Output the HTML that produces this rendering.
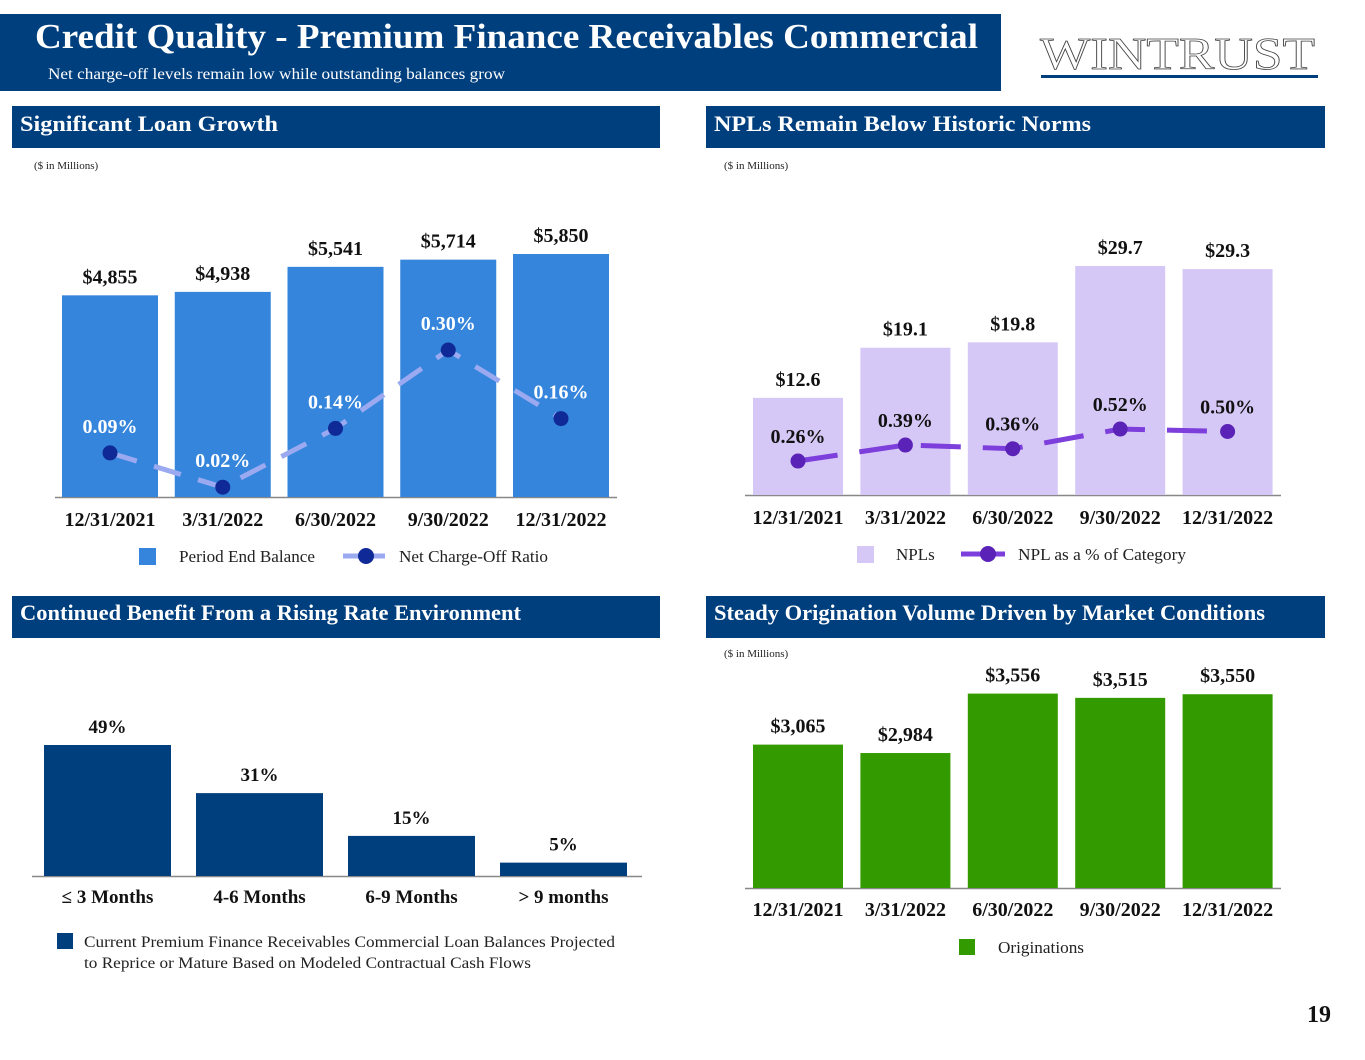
<!DOCTYPE html>
<html><head><meta charset="utf-8">
<style>
html,body{margin:0;padding:0;background:#fff;}
body{width:1365px;height:1055px;overflow:hidden;font-family:"Liberation Serif",serif;}
svg text{font-family:"Liberation Serif",serif;}
</style></head>
<body>
<svg id="s" width="1365" height="1055" viewBox="0 0 1365 1055" xmlns="http://www.w3.org/2000/svg">
  <rect x="0" y="14" width="1001" height="77" fill="#003f7e"/>
  <text x="35" y="48" font-size="35" font-weight="bold" fill="#fff" textLength="943" lengthAdjust="spacingAndGlyphs">Credit Quality - Premium Finance Receivables Commercial</text>
  <text x="48" y="79" font-size="16" fill="#fff" textLength="457" lengthAdjust="spacingAndGlyphs">Net charge-off levels remain low while outstanding balances grow</text>
  <g>
    <text x="1040" y="69" font-size="46" fill="#fff" stroke="#444" stroke-width="0.8" textLength="275" lengthAdjust="spacingAndGlyphs">WINTRUST</text>
    <rect x="1041" y="75" width="277" height="3" fill="#003f7e"/>
  </g>
  <rect x="12" y="106" width="648" height="42" fill="#003f7e"/>
  <text x="20" y="131" font-size="22" font-weight="bold" fill="#fff" textLength="258" lengthAdjust="spacingAndGlyphs">Significant Loan Growth</text>
  <rect x="706" y="106" width="619" height="42" fill="#003f7e"/>
  <text x="714" y="131" font-size="22" font-weight="bold" fill="#fff" textLength="377" lengthAdjust="spacingAndGlyphs">NPLs Remain Below Historic Norms</text>
  <rect x="12" y="596" width="648" height="42" fill="#003f7e"/>
  <text x="20" y="620" font-size="22" font-weight="bold" fill="#fff" textLength="501" lengthAdjust="spacingAndGlyphs">Continued Benefit From a Rising Rate Environment</text>
  <rect x="706" y="596" width="619" height="42" fill="#003f7e"/>
  <text x="714" y="620" font-size="22" font-weight="bold" fill="#fff" textLength="551" lengthAdjust="spacingAndGlyphs">Steady Origination Volume Driven by Market Conditions</text>
  <text x="34" y="169" font-size="11" fill="#222">($ in Millions)</text>
  <text x="724" y="169" font-size="11" fill="#222">($ in Millions)</text>
  <text x="724" y="657" font-size="11" fill="#222">($ in Millions)</text>
  <text x="1331" y="1022" font-size="24" font-weight="bold" fill="#111" text-anchor="end">19</text>
  <g id="g1"></g><g id="g2"></g><g id="g3"></g><g id="g4"></g>
  <g>
    <rect x="139" y="548" width="17" height="17" fill="#3585dc"/>
    <text x="179" y="562" font-size="17" fill="#222" textLength="136" lengthAdjust="spacingAndGlyphs">Period End Balance</text>
    <line x1="343" y1="556" x2="385" y2="556" stroke="#9aa9f0" stroke-width="5"/>
    <circle cx="366" cy="556" r="8" fill="#0f2a96"/>
    <text x="399" y="562" font-size="17" fill="#222" textLength="149" lengthAdjust="spacingAndGlyphs">Net Charge-Off Ratio</text>
  </g>
  <g>
    <rect x="857" y="546" width="17" height="17" fill="#d6c8f6"/>
    <text x="896" y="560" font-size="17" fill="#222">NPLs</text>
    <line x1="961" y1="554" x2="1005" y2="554" stroke="#7d3fdc" stroke-width="5"/>
    <circle cx="988" cy="554" r="8" fill="#5b22b8"/>
    <text x="1018" y="560" font-size="17" fill="#222" textLength="168" lengthAdjust="spacingAndGlyphs">NPL as a % of Category</text>
  </g>
  <g>
    <rect x="57" y="933" width="16" height="16" fill="#003f7e"/>
    <text x="84" y="947" font-size="16" fill="#222" textLength="531" lengthAdjust="spacingAndGlyphs">Current Premium Finance Receivables Commercial Loan Balances Projected</text>
    <text x="84" y="968" font-size="16" fill="#222" textLength="447" lengthAdjust="spacingAndGlyphs">to Reprice or Mature Based on Modeled Contractual Cash Flows</text>
  </g>
  <g>
    <rect x="959" y="939" width="16" height="16" fill="#339a00"/>
    <text x="998" y="953" font-size="17" fill="#222" textLength="86" lengthAdjust="spacingAndGlyphs">Originations</text>
  </g>
</svg>
<script>
const quarters = ["12/31/2021","3/31/2022","6/30/2022","9/30/2022","12/31/2022"];
const loanBalances = [4855,4938,5541,5714,5850];
const loanLabels = ["$4,855","$4,938","$5,541","$5,714","$5,850"];
const ncoRatios = [0.09,0.02,0.14,0.30,0.16];
const ncoLabels = ["0.09%","0.02%","0.14%","0.30%","0.16%"];
const nplValues = [12.6,19.1,19.8,29.7,29.3];
const nplLabels = ["$12.6","$19.1","$19.8","$29.7","$29.3"];
const nplPct = [0.26,0.39,0.36,0.52,0.50];
const nplPctLabels = ["0.26%","0.39%","0.36%","0.52%","0.50%"];
const rateCats = ["≤ 3 Months","4-6 Months","6-9 Months","> 9 months"];
const rateValues = [49,31,15,5];
const rateLabels = ["49%","31%","15%","5%"];
const origValues = [3065,2984,3556,3515,3550];
const origLabels = ["$3,065","$2,984","$3,556","$3,515","$3,550"];

const NS="http://www.w3.org/2000/svg";
function mk(parent,tag,attrs,txt){const e=document.createElementNS(NS,tag);for(const k in attrs)e.setAttribute(k,attrs[k]);if(txt!==undefined)e.textContent=txt;parent.appendChild(e);return e;}

function barChart(gid,cfg){
  const g=document.getElementById(gid);
  
  
  const n=cfg.cats.length;
  const xC=i=>cfg.x0+cfg.step*i;
  const yV=v=>cfg.base-(v-cfg.min)*cfg.scale;
  mk(g,'line',{x1:cfg.ax0,x2:cfg.ax1,y1:cfg.base+0.5,y2:cfg.base+0.5,stroke:'#888','stroke-width':1.5});
  for(let i=0;i<n;i++){
    const y=yV(cfg.vals[i]);
    const r=mk(g,'rect',{x:xC(i)-cfg.w/2,y:y,width:cfg.w,height:cfg.base-y,fill:cfg.color});
    
    
    const t=mk(g,'text',{x:xC(i),y:y-12,'font-size':cfg.valFs,'font-weight':'bold','text-anchor':'middle',fill:'#111'},cfg.labels[i]);
    
    
    const c=mk(g,'text',{x:xC(i),y:cfg.base+cfg.catDy,'font-size':cfg.catFs,'font-weight':'bold','text-anchor':'middle',fill:'#111'},cfg.cats[i]);
    
    
  }
  if(cfg.line){
    const L=cfg.line;
    const yL=v=>L.base-v*L.scale;
    let d='';
    for(let i=0;i<n;i++)d+=(i?'L':'M')+xC(i)+' '+yL(L.vals[i]);
    const p=mk(g,'path',{d:d,fill:'none',stroke:L.color,'stroke-width':5,'stroke-dasharray':L.dash});
    
    
    for(let i=0;i<n;i++){
      const c=mk(g,'circle',{cx:xC(i),cy:yL(L.vals[i]),r:7.5,fill:L.dot});
      
      
      const t=mk(g,'text',{x:xC(i),y:yL(L.vals[i])-L.lblDy,'font-size':20,'font-weight':'bold','text-anchor':'middle',fill:L.lblColor},L.labels[i]);
      
      
    }
  }
}
barChart('g1',{name:'loan-growth-chart',cats:quarters,vals:loanBalances,labels:loanLabels,x0:110,step:112.75,w:96,base:497,min:0,scale:243/5850,color:'#3585dc',ax0:55,ax1:617,catDy:29,catFs:20,valFs:20,
  line:{vals:ncoRatios,labels:ncoLabels,base:497,scale:490,color:'#9aa9f0',dot:'#0f2a96',dash:'28 18',lblDy:20,lblColor:'#fff'}});
barChart('g2',{name:'npl-chart',cats:quarters,vals:nplValues,labels:nplLabels,x0:798,step:107.4,w:90,base:495,min:0,scale:229/29.7,color:'#d6c8f6',ax0:745,ax1:1281,catDy:29,catFs:20,valFs:20,
  line:{vals:nplPct,labels:nplPctLabels,base:493,scale:123,color:'#7d3fdc',dot:'#5b22b8',dash:'40 22',lblDy:18,lblColor:'#111'}});
barChart('g3',{name:'rate-environment-chart',cats:rateCats,vals:rateValues,labels:rateLabels,x0:107.5,step:152,w:127,base:876,min:0,scale:131/49,color:'#003f7e',ax0:32,ax1:642,catDy:27,catFs:19,valFs:19});
barChart('g4',{name:'originations-chart',cats:quarters,vals:origValues,labels:origLabels,x0:798,step:107.4,w:90,base:888,min:1685,scale:0.1039,color:'#339a00',ax0:745,ax1:1281,catDy:28,catFs:20,valFs:20});
</script>
</body></html>
